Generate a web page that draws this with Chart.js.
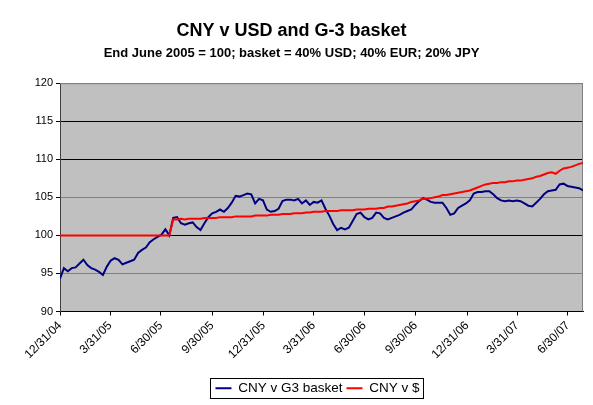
<!DOCTYPE html>
<html>
<head>
<meta charset="utf-8">
<script src="https://cdn.jsdelivr.net/npm/chart.js@4.4.1/dist/chart.umd.min.js"></script>
<style>
  html, body { margin: 0; padding: 0; background: #fff; }
  #wrap { width: 593px; height: 405px; }
</style>
</head>
<body>
<div id="wrap"><canvas id="chart"></canvas></div>
<script>
// weekly readings, first one on 12/31/04
const startDate = "12/31/04";
const tickLabels = ["12/31/04", "3/31/05", "6/30/05", "9/30/05", "12/31/05", "3/31/06",
  "6/30/06", "9/30/06", "12/31/06", "3/31/07", "6/30/07"];

const basket = [
  94.3, 95.7, 95.3, 95.7, 95.8, 96.3, 96.8, 96.1, 95.7, 95.5,
  95.2, 94.8, 95.9, 96.7, 97.0, 96.8, 96.2, 96.4, 96.6, 96.8,
  97.7, 98.1, 98.4, 99.1, 99.5, 99.8, 100.1, 100.8, 100.0, 102.3,
  102.4, 101.6, 101.4, 101.6, 101.7, 101.1, 100.7, 101.6, 102.4, 102.9,
  103.1, 103.4, 103.1, 103.6, 104.3, 105.2, 105.1, 105.3, 105.5, 105.4,
  104.2, 104.8, 104.6, 103.4, 103.1, 103.2, 103.5, 104.5, 104.7, 104.7,
  104.6, 104.8, 104.2, 104.6, 104.0, 104.4, 104.3, 104.6, 103.5, 102.6,
  101.5, 100.7, 101.0, 100.8, 101.0, 101.9, 102.8, 103.0, 102.4, 102.1,
  102.3, 103.0, 102.9, 102.3, 102.1, 102.3, 102.5, 102.7, 103.0, 103.2,
  103.4, 104.0, 104.5, 104.9, 104.7, 104.4, 104.3, 104.3, 104.3, 103.6,
  102.7, 102.9, 103.6, 103.9, 104.2, 104.6, 105.5, 105.7, 105.7, 105.8,
  105.8, 105.4, 104.9, 104.6, 104.5, 104.6, 104.5, 104.6, 104.5, 104.2,
  103.9, 103.8, 104.3, 104.8, 105.4, 105.8, 105.9, 106.0, 106.7, 106.8,
  106.5, 106.4, 106.3, 106.2, 105.9
];

const dollar = [
  100, 100, 100, 100, 100, 100, 100, 100, 100, 100,
  100, 100, 100, 100, 100, 100, 100, 100, 100, 100,
  100, 100, 100, 100, 100, 100, 100, 100, 100, 102.1,
  102.1, 102.2, 102.1, 102.2, 102.2, 102.2, 102.2, 102.3, 102.3, 102.3,
  102.3, 102.4, 102.4, 102.4, 102.4, 102.5, 102.5, 102.5, 102.5, 102.5,
  102.6, 102.6, 102.6, 102.6, 102.7, 102.7, 102.7, 102.8, 102.8, 102.8,
  102.9, 102.9, 102.9, 103.0, 103.0, 103.1, 103.1, 103.1, 103.2, 103.2,
  103.2, 103.2, 103.3, 103.3, 103.3, 103.3, 103.4, 103.4, 103.4, 103.5,
  103.5, 103.5, 103.6, 103.6, 103.8, 103.8, 103.9, 104.0, 104.1, 104.2,
  104.4, 104.5, 104.6, 104.8, 104.8, 104.9, 105.0, 105.1, 105.3, 105.3,
  105.4, 105.5, 105.6, 105.7, 105.8, 105.9, 106.1, 106.3, 106.5, 106.7,
  106.8, 106.9, 106.9, 107.0, 107.0, 107.1, 107.1, 107.2, 107.2, 107.3,
  107.4, 107.5, 107.7, 107.8, 108.0, 108.2, 108.3, 108.1, 108.5, 108.8,
  108.9, 109.0, 109.2, 109.4, 109.5
];

function dayNum(s) {
  const [m, d, y] = s.split("/").map(Number);
  return Date.UTC(2000 + y, m - 1, d) / 86400000;
}
const day0 = dayNum(startDate);
const tickDays = tickLabels.map((s) => dayNum(s) - day0);
const toPoints = (arr) => arr.map((v, i) => ({ x: i * 7, y: v }));
const lastDay = (basket.length - 1) * 7;

const FONT = "'Liberation Sans', Arial, sans-serif";

// grey plot area + frame, legend nudged right with a box round it
const excelLook = {
  id: "excelLook",
  afterLayout(chart) {
    chart.legend.left += 26;
    chart.legend.right += 26;
  },
  beforeDraw(chart) {
    const { ctx, chartArea: a } = chart;
    ctx.save();
    ctx.fillStyle = "#c0c0c0";
    ctx.fillRect(a.left, a.top, a.width, a.height);
    ctx.restore();
  },
  beforeDatasetsDraw(chart) {
    const { ctx, chartArea: a } = chart;
    ctx.save();
    ctx.strokeStyle = "#808080";
    ctx.lineWidth = 1;
    ctx.beginPath();
    ctx.moveTo(a.left, a.top + 0.5);
    ctx.lineTo(a.right - 0.5, a.top + 0.5);
    ctx.lineTo(a.right - 0.5, a.bottom);
    ctx.stroke();
    ctx.restore();
  },
  afterDraw(chart) {
    const boxes = chart.legend.legendHitBoxes;
    if (!boxes || !boxes.length) return;
    const first = boxes[0], last = boxes[boxes.length - 1];
    const { ctx } = chart;
    const l = Math.round(first.left - 5) + 0.5;
    const r = Math.round(last.left + last.width + 3) + 0.5;
    const t = Math.round(first.top - 4) + 0.5;
    const b = Math.round(first.top + first.height + 3) + 0.5;
    ctx.save();
    ctx.strokeStyle = "#000";
    ctx.lineWidth = 1;
    ctx.strokeRect(l, t, r - l, b - t);
    ctx.restore();
  }
};

new Chart(document.getElementById("chart"), {
  type: "line",
  data: {
    datasets: [
      {
        label: "CNY v G3 basket",
        data: toPoints(basket),
        borderColor: "#000080",
        backgroundColor: "#000080",
        borderWidth: 2,
        pointRadius: 0,
        tension: 0,
        order: 1
      },
      {
        label: "CNY v $",
        data: toPoints(dollar),
        borderColor: "#ff0000",
        backgroundColor: "#ff0000",
        borderWidth: 2,
        pointRadius: 0,
        tension: 0,
        order: 0
      }
    ]
  },
  options: {
    responsive: true,
    maintainAspectRatio: false,
    animation: false,
    layout: { padding: { left: 0, right: 10, top: 0, bottom: 0 } },
    scales: {
      x: {
        type: "linear",
        min: 0,
        max: lastDay,
        afterBuildTicks: (scale) => {
          scale.ticks = tickDays.map((v) => ({ value: v }));
        },
        afterFit: (scale) => { scale.height = 66; },
        ticks: {
          autoSkip: false,
          minRotation: 45,
          maxRotation: 45,
          padding: 3,
          color: "#000",
          font: { family: FONT, size: 12 },
          callback: (v) => tickLabels[tickDays.indexOf(v)]
        },
        grid: { drawOnChartArea: false, drawTicks: true, tickLength: 4, color: "#000" },
        border: { color: "#000", width: 1 }
      },
      y: {
        min: 90,
        max: 120,
        afterFit: (scale) => { scale.width = 60; },
        ticks: {
          stepSize: 5,
          padding: 3,
          color: "#000",
          font: { family: FONT, size: 11 }
        },
        grid: {
          tickLength: 4,
          tickColor: "#000",
          color: (c) => {
            const v = c.tick && c.tick.value;
            if (v === 120 || v === 95 || v === 105) return "#808080";
            return "#000";
          }
        },
        border: { color: "#404040", width: 1 }
      }
    },
    plugins: {
      title: {
        display: true,
        text: "CNY v USD and G-3 basket",
        color: "#000",
        font: { family: FONT, size: 18, weight: "bold" },
        padding: { top: 20, bottom: 4 }
      },
      subtitle: {
        display: true,
        text: "End June 2005 = 100; basket = 40% USD; 40% EUR; 20% JPY",
        color: "#000",
        font: { family: FONT, size: 13, weight: "bold" },
        padding: { top: 0, bottom: 22 }
      },
      legend: {
        position: "bottom",
        labels: {
          color: "#000",
          font: { family: FONT, size: 13.5 },
          usePointStyle: true,
          pointStyle: "line",
          pointStyleWidth: 16,
          padding: 4,
          sort: (a, b) => a.datasetIndex - b.datasetIndex
        }
      },
      tooltip: { enabled: false }
    }
  },
  plugins: [excelLook]
});
</script>
</body>
</html>
